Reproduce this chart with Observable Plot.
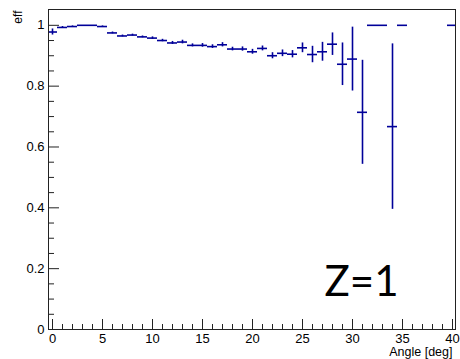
<!DOCTYPE html>
<html>
<head>
<meta charset="utf-8">
<script src="https://cdn.jsdelivr.net/npm/d3@7"></script>
<script src="https://cdn.jsdelivr.net/npm/@observablehq/plot@0.6"></script>
<style>
  html, body { margin: 0; padding: 0; background: white; }
</style>
</head>
<body>
<div id="chart"></div>
<script>
// Bin centres (deg) that have entries
const angle = [0,1,2,3,4,5,6,7,8,9,10,11,12,13,14,15,16,17,18,19,20,21,22,23,24,25,26,27,28,29,30,31,32,33,34,35,40];
// Efficiency per bin
const eff = [0.978,0.993,0.996,1.0,1.0,0.996,0.975,0.965,0.968,0.962,0.958,0.950,0.942,0.945,0.934,0.934,0.930,0.936,0.922,0.922,0.913,0.924,0.900,0.908,0.905,0.926,0.904,0.913,0.938,0.872,0.889,0.714,1.0,1.0,0.667,1.0,1.0];
// Binomial error per bin
const err = [0.010,0.003,0.002,0,0,0.002,0.003,0.003,0.003,0.003,0.004,0.004,0.005,0.006,0.005,0.006,0.006,0.007,0.006,0.007,0.008,0.008,0.010,0.011,0.012,0.016,0.027,0.031,0.037,0.070,0.105,0.171,0,0,0.272,0,0];

const xMajor = [0,5,10,15,20,25,30,35,40];
const xMinor = d3.range(0, 41).filter(v => v % 5 !== 0);
const yMajor = [0,0.2,0.4,0.6,0.8,1];
const yTickLabels = ["0","0.2","0.4","0.6","0.8","1"];
const yMinor = [0.05,0.1,0.15,0.25,0.3,0.35,0.45,0.5,0.55,0.65,0.7,0.75,0.85,0.9,0.95];

const yTitle = "eff";
const xTitle = "Angle [deg]";
const note = "Z=1";

const data = angle.map((a, i) => ({a, e: eff[i], s: err[i]}));
const col = "#000099";
const axisCol = "#222";

const chart = Plot.plot({
  width: 460,
  height: 359,
  marginLeft: 48,
  marginRight: 5,
  marginTop: 9,
  marginBottom: 30,
  x: {domain: [-0.4, 40.3]},
  y: {domain: [0, 1.052]},
  style: {fontFamily: "'Liberation Sans', Arial, sans-serif", fontSize: "13px", color: "black", background: "white"},
  marks: [
    Plot.axisX(xMajor, {tickSize: 0, tickPadding: 4, label: null, fontSize: 13, tickFormat: d => String(d)}),
    Plot.axisY(yMajor, {tickSize: 0, tickPadding: 4, label: null, fontSize: 13, tickFormat: (d, i) => yTickLabels[i]}),
    Plot.tickX(xMajor, {x: d => d, insetTop: 310, stroke: axisCol}),
    Plot.tickX(xMinor, {x: d => d, insetTop: 315, stroke: axisCol}),
    Plot.tickY(yMajor, {y: d => d, insetRight: 396, stroke: axisCol}),
    Plot.tickY(yMinor, {y: d => d, insetRight: 401, stroke: axisCol}),
    Plot.ruleY(data, {y: "e", x1: d => d.a - 0.5, x2: d => d.a + 0.5, stroke: col, strokeWidth: 1.6, clip: true}),
    Plot.ruleX(data.filter(d => d.s > 0), {x: "a", y1: d => d.e - d.s, y2: d => d.e + d.s, stroke: col, strokeWidth: 1.6, clip: true}),
    Plot.frame({stroke: axisCol}),
    Plot.text([xTitle], {text: d => d, frameAnchor: "bottom-right", textAnchor: "end", lineAnchor: "bottom", dx: -3, dy: 26, fontSize: 12.5}),
    Plot.text([yTitle], {text: d => d, frameAnchor: "top-left", rotate: -90, textAnchor: "end", dx: -35, dy: 1, fontSize: 12}),
    Plot.text([note], {text: d => d, frameAnchor: "bottom-right", textAnchor: "middle", lineAnchor: "bottom", dx: -94, dy: -34, fontSize: 42, fontFamily: "Lato, 'Open Sans', sans-serif", fill: "black"})
  ]
});
document.getElementById("chart").appendChild(chart);
</script>
</body>
</html>
